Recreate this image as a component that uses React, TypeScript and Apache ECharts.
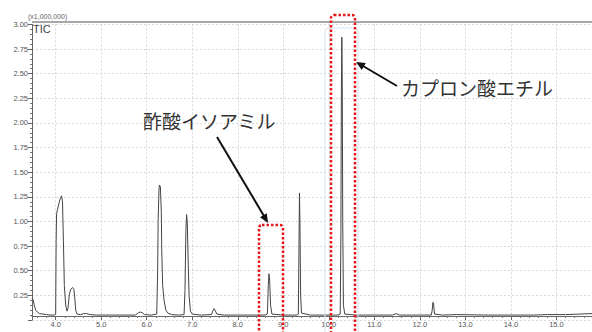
import React, { useEffect, useRef } from "react";
import * as echarts from "echarts";

// Retention time (min) and TIC intensity (x1,000,000)
const retentionTimes: number[] = [
  3.48, 3.5, 3.53, 3.56, 3.6, 3.65, 3.72, 3.8, 3.9, 3.98,
  4.0, 4.01, 4.02, 4.04, 4.07, 4.1, 4.13, 4.15, 4.17, 4.19, 4.22, 4.25, 4.27, 4.3, 4.33, 4.37, 4.4, 4.42, 4.44, 4.47,
  4.55, 4.62, 4.68, 4.75, 4.9, 5.2, 5.5, 5.75, 5.82, 5.86, 5.9, 5.95, 6.1,
  6.22, 6.24, 6.25, 6.27, 6.28, 6.3, 6.32, 6.33, 6.35, 6.38, 6.42, 6.46, 6.55, 6.7, 6.82,
  6.84, 6.86, 6.875, 6.89, 6.91, 6.93, 6.96, 7.0, 7.2, 7.42, 7.46, 7.48, 7.5, 7.54, 7.7, 8.0, 8.3, 8.6,
  8.65, 8.67, 8.685, 8.7, 8.72, 8.75, 9.0, 9.3,
  9.33, 9.345, 9.355, 9.365, 9.38, 9.4, 9.6, 9.9, 10.2,
  10.25, 10.265, 10.275, 10.285, 10.295, 10.305, 10.32, 10.35, 10.6, 11.0, 11.4, 11.48, 11.55, 12.0, 12.25,
  12.27, 12.285, 12.3, 12.32, 12.5, 12.8, 13.5, 14.0, 14.5, 14.8, 15.2, 15.5, 15.78,
];
const intensities: number[] = [
  0.22, 0.21, 0.15, 0.1, 0.08, 0.065, 0.06, 0.055, 0.05, 0.05,
  0.06, 0.8, 1.08, 1.12, 1.18, 1.23, 1.26, 1.2, 0.8, 0.35, 0.15, 0.09, 0.12, 0.26, 0.31, 0.33, 0.31, 0.22, 0.1, 0.06,
  0.055, 0.065, 0.065, 0.055, 0.05, 0.05, 0.05, 0.05, 0.075, 0.08, 0.075, 0.055, 0.05,
  0.06, 0.5, 1.0, 1.33, 1.37, 1.35, 1.1, 0.7, 0.35, 0.2, 0.1, 0.07, 0.055, 0.05, 0.055,
  0.3, 0.9, 1.07, 1.0, 0.6, 0.25, 0.09, 0.06, 0.05, 0.055, 0.1, 0.115, 0.1, 0.06, 0.05, 0.05, 0.05, 0.05,
  0.06, 0.35, 0.47, 0.4, 0.15, 0.06, 0.05, 0.05,
  0.06, 0.8, 1.29, 1.0, 0.25, 0.07, 0.05, 0.05, 0.05,
  0.06, 0.9, 2.3, 2.87, 2.4, 1.0, 0.15, 0.06, 0.05, 0.05, 0.05, 0.065, 0.05, 0.05, 0.05,
  0.1, 0.18, 0.17, 0.06, 0.05, 0.055, 0.05, 0.05, 0.05, 0.055, 0.055, 0.06, 0.065,
];

const xRange: number[] = [3.48, 15.78];
const yRange: number[] = [0, 3];
const yInterval = 0.25;
const scaleLabel = "(x1,000,000)";
const traceLabel = "TIC";
const annotationA = "酢酸イソアミル";
const annotationB = "カプロン酸エチル";

export default function App() {
  const ref = useRef<HTMLDivElement>(null);
  useEffect(() => {
    document.body.style.margin = "0";
    if (!ref.current) return;
    const chart = echarts.init(ref.current, null, { renderer: "svg" });
    const data = retentionTimes.map((t, i) => [t, intensities[i]]);
    const red = "#e8161b";
    const jp = '"Noto Sans CJK JP", sans-serif';
    chart.setOption({
      animation: false,
      backgroundColor: "#ffffff",
      grid: { left: 32, right: 0, top: 24.4, bottom: 12, containLabel: false },
      xAxis: {
        type: "value",
        min: xRange[0],
        max: xRange[1],
        splitNumber: 12,
        offset: -4,
        axisLine: { show: true, lineStyle: { color: "#666", width: 1 } },
        axisTick: { show: true, length: 4, lineStyle: { color: "#666" } },
        minorTick: { show: true, splitNumber: 5, length: 2, lineStyle: { color: "#777" } },
        axisLabel: {
          showMinLabel: false,
          showMaxLabel: false,
          fontSize: 7.5,
          color: "#555",
          margin: 4,
          fontFamily: "Liberation Sans, Arial, sans-serif",
          formatter: (v: number) => v.toFixed(1),
        },
        splitLine: { show: true, lineStyle: { color: "#cfcfcf", type: [2, 2], width: 0.8 } },
      },
      yAxis: {
        type: "value",
        min: yRange[0],
        max: yRange[1],
        interval: yInterval,
        axisLine: { show: true, lineStyle: { color: "#666", width: 1 } },
        axisTick: { show: true, length: 4, lineStyle: { color: "#666" } },
        minorTick: { show: true, splitNumber: 5, length: 2, lineStyle: { color: "#777" } },
        axisLabel: {
          showMinLabel: false,
          fontSize: 7.5,
          color: "#555",
          margin: 4,
          fontFamily: "Liberation Sans, Arial, sans-serif",
          formatter: (v: number) => v.toFixed(2),
        },
        splitLine: { show: true, lineStyle: { color: "#cfcfcf", type: [2, 2], width: 0.8 } },
      },
      series: [
        {
          type: "line",
          data,
          showSymbol: false,
          symbol: "none",
          lineStyle: { color: "#444", width: 1 },
          z: 3,
        },
      ],
      graphic: [
        { type: "line", shape: { x1: 32, y1: 22, x2: 592, y2: 22 }, style: { stroke: "#8a8a8a", lineWidth: 1.6 }, z: 10 },
        { type: "text", left: 28, top: 13, style: { text: scaleLabel, fontSize: 7, fill: "#666", fontFamily: "Liberation Sans, Arial, sans-serif" }, z: 11 },
        { type: "text", left: 33, top: 23, style: { text: traceLabel, fontSize: 11, fill: "#444", fontFamily: "Liberation Sans, Arial, sans-serif" }, z: 11 },
        {
          type: "rect",
          shape: { x: 325, y: 28, width: 33, height: 320, r: 4 },
          style: { fill: "none", stroke: "#d6e4ee", lineWidth: 1 },
          z: 9,
        },
        {
          type: "rect",
          shape: { x: 259, y: 225, width: 24, height: 130, r: [3, 3, 0, 0] },
          style: { fill: "none", stroke: red, lineWidth: 2.5, lineDash: [2.5, 2] },
          z: 12,
        },
        {
          type: "rect",
          shape: { x: 331, y: 15, width: 24, height: 340, r: [3, 3, 0, 0] },
          style: { fill: "none", stroke: red, lineWidth: 2.5, lineDash: [2.5, 2] },
          z: 12,
        },
        { type: "line", shape: { x1: 217, y1: 137, x2: 264, y2: 216 }, style: { stroke: "#111", lineWidth: 2 }, z: 12 },
        { type: "polygon", shape: { points: [[268, 223], [260, 217.3], [266.8, 213.3]] }, style: { fill: "#111" }, z: 12 },
        { type: "line", shape: { x1: 397, y1: 86, x2: 363, y2: 66 }, style: { stroke: "#111", lineWidth: 2 }, z: 12 },
        { type: "polygon", shape: { points: [[356, 62], [365.8, 63.1], [361.8, 70]] }, style: { fill: "#111" }, z: 12 },
        {
          type: "text",
          left: 143,
          top: 111,
          style: { text: annotationA, fontSize: 19, fill: "#333", fontFamily: jp },
          z: 12,
        },
        {
          type: "text",
          left: 401,
          top: 78,
          style: { text: annotationB, fontSize: 19, fill: "#333", fontFamily: jp },
          z: 12,
        },
      ],
    });
    return () => chart.dispose();
  }, []);
  return <div ref={ref} style={{ width: 592, height: 332 }} />;
}
